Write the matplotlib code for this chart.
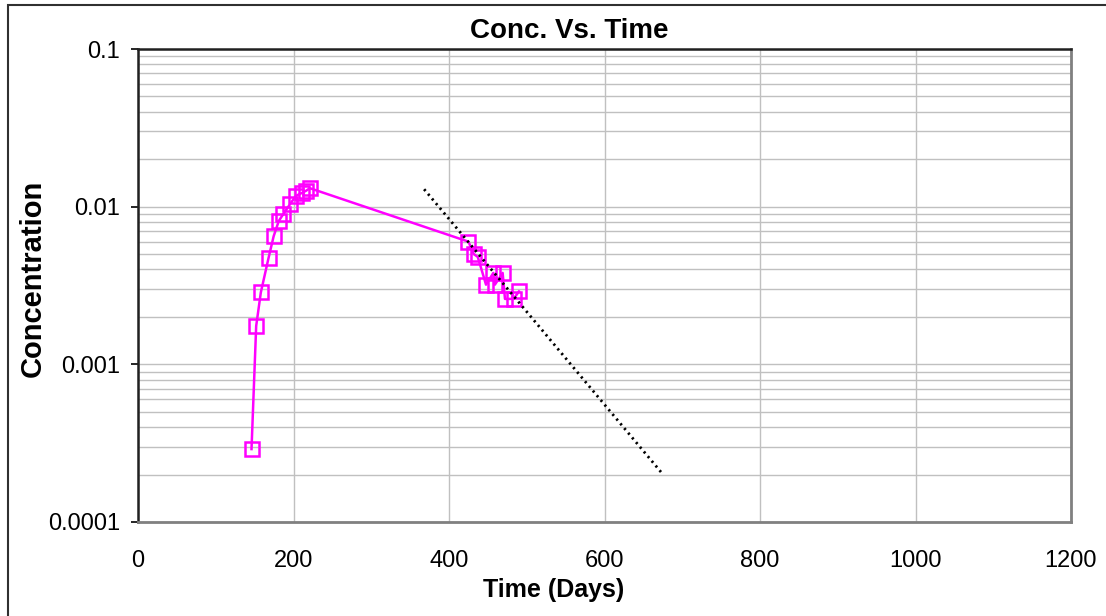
"""
Concentration versus time, log scale, with an exponential trend line.
"""

import matplotlib.pyplot as plt
from matplotlib.patches import Rectangle
from matplotlib.ticker import FixedLocator, LogLocator, NullFormatter

plt.rcParams["font.family"] = ["Liberation Sans", "DejaVu Sans"]

# %%
# Data

days = [146, 152, 158, 168, 174.5, 181, 187, 196, 203, 210.5, 216, 221,
        425, 432, 437, 447.6, 457, 459, 469, 472, 483, 490]
conc = [0.00029, 0.00175, 0.00286, 0.00475, 0.0065, 0.0081, 0.0090, 0.01045,
        0.0117, 0.0122, 0.0126, 0.0131,
        0.0060, 0.0050, 0.0048, 0.0032, 0.0038, 0.0032, 0.0038, 0.0026,
        0.0026, 0.0029]

# exponential trend line: straight on a log axis, so two ends are enough
trend_days = [368, 675]
trend_conc = [0.0129, 0.000201]

x_ticks = [0, 200, 400, 600, 800, 1000, 1200]
y_ticks = [0.0001, 0.001, 0.01, 0.1]
y_labels = ["0.0001", "0.001", "0.01", "0.1"]

# %%
# Plot

W, H = 1106, 616
fig = plt.figure(figsize=(W / 100, H / 100), dpi=100)
ax = fig.add_axes([138 / W, 1 - 522 / H, (1071 - 138) / W, (522 - 49) / H])

# outer chart border (only top and left show inside the picture)
fig.patches.append(Rectangle((8 / W, -0.05), 1.2, 1.05 - 5 / H,
                             transform=fig.transFigure, fill=False,
                             edgecolor="#303030", linewidth=1.5))

ax.set_yscale("log")
ax.set_xlim(0, 1200)
ax.set_ylim(0.0001, 0.1)

ax.plot(days, conc, color="#ff00ff", linewidth=1.8, marker="s",
        markersize=10, markerfacecolor="none", markeredgecolor="#ff00ff",
        markeredgewidth=1.8, zorder=3)
ax.plot(trend_days, trend_conc, color="black", linewidth=2.0,
        linestyle=(0, (0.8, 1.4)), zorder=4)

ax.xaxis.set_major_locator(FixedLocator(x_ticks))
ax.set_xticklabels([str(t) for t in x_ticks])
ax.yaxis.set_major_locator(FixedLocator(y_ticks))
ax.set_yticklabels(y_labels)
ax.yaxis.set_minor_locator(LogLocator(base=10, subs=range(2, 10)))
ax.yaxis.set_minor_formatter(NullFormatter())

ax.grid(True, which="major", color="#c0c0c0", linewidth=1.0)
ax.grid(True, which="minor", axis="y", color="#c0c0c0", linewidth=1.0)
ax.set_axisbelow(True)

ax.tick_params(axis="x", length=0, labelsize=17, pad=20)
ax.tick_params(axis="y", which="major", length=5, width=1.2, labelsize=17,
               pad=8, direction="out")
ax.tick_params(axis="y", which="minor", length=0)

for side in ["top", "left"]:
    ax.spines[side].set_color("#202020")
    ax.spines[side].set_linewidth(1.8)
for side in ["right", "bottom"]:
    ax.spines[side].set_color("#808080")
    ax.spines[side].set_linewidth(2.0)

fig.text(569 / W, 1 - 31 / H, "Conc. Vs. Time", fontsize=20,
         fontweight="bold", ha="center", va="center")
fig.text(554 / W, 1 - 590 / H, "Time (Days)", fontsize=18,
         fontweight="bold", ha="center", va="center")
fig.text(33 / W, 1 - 278 / H, "Concentration", fontsize=21,
         fontweight="bold", ha="center", va="center", rotation=90)

fig.savefig("out.png", dpi=100)
